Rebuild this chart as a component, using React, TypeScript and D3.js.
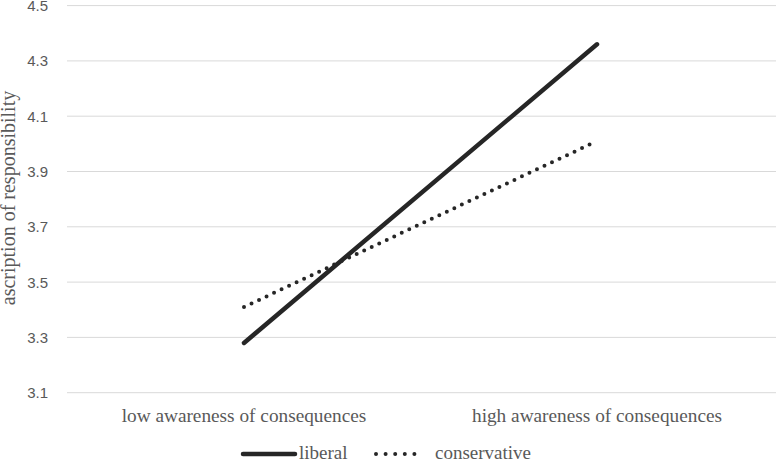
import React, { useEffect, useRef } from 'react';
import * as d3 from 'd3';

const categories = ['low awareness of consequences', 'high awareness of consequences'];
const liberal = [3.28, 4.36];
const conservative = [3.41, 4.01];
const yTicks = [3.1, 3.3, 3.5, 3.7, 3.9, 4.1, 4.3, 4.5];

const W = 776;
const H = 463;
const serif = '"Liberation Serif", "Times New Roman", serif';

const App = () => {
  const ref = useRef<SVGSVGElement>(null);

  useEffect(() => {
    const svg = d3.select(ref.current).attr('width', W).attr('height', H);
    svg.selectAll('*').remove();

    const x = d3.scalePoint<string>().domain(categories).range([244, 597]);
    const y = d3.scaleLinear().domain([3.1, 4.5]).range([392.7, 5.6]);

    // gridlines
    svg.append('g')
      .selectAll('line')
      .data(yTicks)
      .enter()
      .append('line')
      .attr('x1', 67)
      .attr('x2', W)
      .attr('y1', d => y(d))
      .attr('y2', d => y(d))
      .attr('stroke', '#d9d9d9')
      .attr('stroke-width', 1);

    // y tick labels
    svg.append('g')
      .selectAll('text')
      .data(yTicks)
      .enter()
      .append('text')
      .attr('x', 48)
      .attr('y', d => y(d) + 5.5)
      .attr('text-anchor', 'end')
      .attr('font-family', '"Liberation Sans", Arial, sans-serif')
      .attr('font-size', 15)
      .attr('fill', '#595959')
      .text(d => d.toFixed(1));

    // y title
    svg.append('text')
      .attr('transform', 'translate(15,198) rotate(-90)')
      .attr('text-anchor', 'middle')
      .attr('font-family', serif)
      .attr('font-size', 20)
      .attr('fill', '#595959')
      .text('ascription of responsibility');

    // category labels
    svg.append('g')
      .selectAll('text')
      .data(categories)
      .enter()
      .append('text')
      .attr('x', d => x(d)!)
      .attr('y', 422)
      .attr('text-anchor', 'middle')
      .attr('font-family', serif)
      .attr('font-size', 19.3)
      .attr('fill', '#595959')
      .text(d => d);

    const line = d3.line<number>()
      .x((_, i) => x(categories[i])!)
      .y(d => y(d));

    svg.append('path')
      .datum(conservative)
      .attr('d', line)
      .attr('fill', 'none')
      .attr('stroke', '#262626')
      .attr('stroke-width', 4)
      .attr('stroke-linecap', 'round')
      .attr('stroke-dasharray', '0 8.3');

    svg.append('path')
      .datum(liberal)
      .attr('d', line)
      .attr('fill', 'none')
      .attr('stroke', '#262626')
      .attr('stroke-width', 4.5)
      .attr('stroke-linecap', 'round');

    // legend
    const legend = svg.append('g').attr('transform', 'translate(0,454)');
    legend.append('line')
      .attr('x1', 243).attr('x2', 295).attr('y1', 0).attr('y2', 0)
      .attr('stroke', '#262626').attr('stroke-width', 4.5).attr('stroke-linecap', 'round');
    legend.append('text')
      .attr('x', 299).attr('y', 4.5)
      .attr('font-family', serif)
      .attr('font-size', 19).attr('fill', '#595959')
      .text('liberal');
    legend.append('line')
      .attr('x1', 376).attr('x2', 424).attr('y1', 0).attr('y2', 0)
      .attr('stroke', '#262626').attr('stroke-width', 4).attr('stroke-linecap', 'round')
      .attr('stroke-dasharray', '0 9.6');
    legend.append('text')
      .attr('x', 435).attr('y', 4.5)
      .attr('font-family', serif)
      .attr('font-size', 19).attr('fill', '#595959')
      .text('conservative');
  }, []);

  return (
    <div style={{ position: 'absolute', left: 0, top: 0, background: '#fff' }}>
      <svg ref={ref} style={{ display: 'block' }}></svg>
    </div>
  );
};

export default App;
